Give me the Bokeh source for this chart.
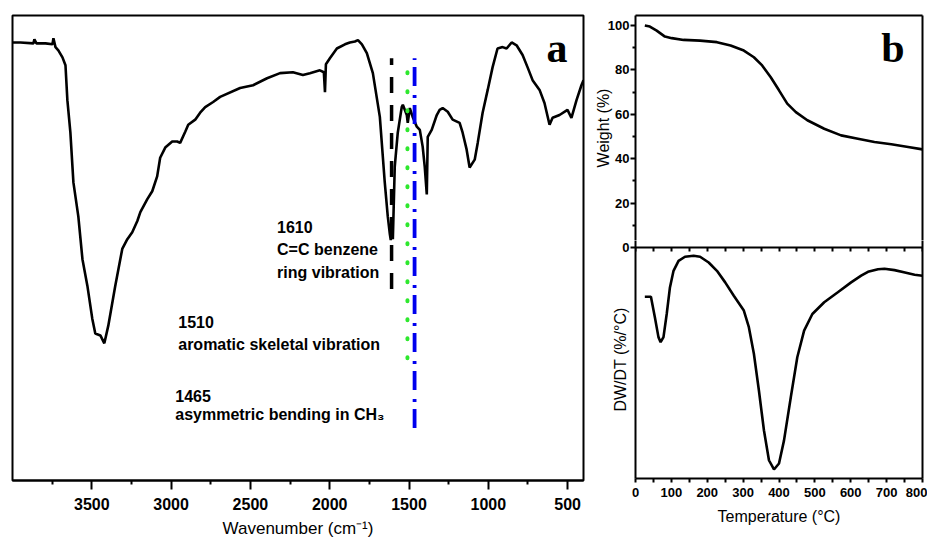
from bokeh.plotting import figure
from bokeh.layouts import row, column
from bokeh.models import Range1d, FixedTicker, LinearAxis, Label
from bokeh.core.properties import value
from bokeh.embed import file_html
from bokeh.resources import INLINE

SANS = "Liberation Sans"
SERIF = "Liberation Serif"

# ---------------- (a) FTIR spectrum ----------------
wavenumber = [4000, 3950, 3868, 3862, 3849, 3792, 3748, 3742, 3729, 3711,
              3685, 3666, 3654, 3635, 3616, 3585, 3559, 3528, 3497, 3478,
              3446, 3421, 3396, 3352, 3308, 3276, 3245, 3213, 3194, 3150,
              3119, 3088, 3069, 3037, 2993, 2962, 2943, 2911, 2892, 2848,
              2817, 2785, 2735, 2691, 2565, 2483, 2395, 2313, 2232, 2169,
              2125, 2062, 2037, 2030, 2024, 1999, 1955, 1904, 1873, 1841,
              1822, 1797, 1766, 1728, 1684, 1653, 1634, 1621, 1615, 1609,
              1602, 1590, 1571, 1546, 1539, 1514, 1508, 1495, 1477, 1451,
              1432, 1414, 1401, 1388, 1382, 1357, 1325, 1307, 1288, 1256,
              1225, 1181, 1162, 1137, 1118, 1086, 1067, 1036, 1004, 973,
              942, 910, 885, 853, 822, 784, 753, 721, 677, 646,
              614, 595, 551, 501, 476, 444, 413, 400]
transmittance = [94.2, 94.2, 94.0, 94.9, 94.0, 94.0, 93.8, 95.1, 93.2, 92.5,
                 91.0, 89.3, 81.8, 74.8, 64.1, 56.8, 47.6, 41.9, 34.8, 31.6,
                 31.2, 29.5, 33.3, 41.9, 49.8, 51.9, 53.4, 55.8, 57.7, 60.5,
                 62.2, 65.4, 69.4, 71.6, 72.9, 72.9, 72.6, 75.0, 76.5, 77.6,
                 79.1, 80.3, 81.4, 82.5, 84.4, 85.0, 86.5, 87.6, 87.8, 87.2,
                 87.6, 88.2, 87.8, 83.5, 89.5, 90.8, 92.9, 93.8, 94.2, 94.4,
                 94.7, 93.8, 91.9, 87.6, 78.2, 64.1, 56.8, 53.0, 51.7, 53.8,
                 51.9, 67.5, 74.8, 80.3, 80.8, 78.6, 76.9, 80.1, 78.2, 76.1,
                 75.4, 71.8, 67.5, 61.5, 73.9, 75.4, 78.6, 79.7, 80.1, 79.3,
                 77.6, 76.9, 74.8, 71.2, 67.3, 69.0, 72.6, 79.1, 84.0, 88.9,
                 92.9, 93.2, 92.9, 94.2, 93.6, 91.5, 88.9, 86.1, 84.0, 81.2,
                 76.5, 78.0, 78.6, 79.7, 78.0, 81.8, 85.0, 86.1]

ftir_ticks = [3500, 3000, 2500, 2000, 1500, 1000, 500]
ftir_minor = [3750, 3250, 2750, 2250, 1750, 1250, 750]

peak_wn = [1610, 1510, 1465]
peak_top = [90.8, 90.6, 90.8]
peak_bottom = [41.2, 26.3, 11.3]

ann_text = ["1610", "C=C benzene", "ring vibration",
            "1510", "aromatic skeletal vibration",
            "1465", "asymmetric bending in CH\u2083"]
ann_x = [2332, 2332, 2332, 2955, 2955, 2974, 2974]
ann_y = [54.5, 49.6, 44.8, 34.0, 29.3, 18.2, 14.2]

# ---------------- (b) TGA / DTG ----------------
temp_tga = [26, 40, 59, 82, 101, 134, 180, 227, 265, 302, 330, 353,
            377, 400, 423, 447, 479, 526, 573, 620, 666, 713, 760, 800]
weight = [100, 99.5, 97.7, 95.0, 94.3, 93.5, 93.2, 92.5, 91.0, 88.7, 85.7, 82.0,
          76.7, 70.8, 64.8, 61.0, 57.3, 53.5, 50.5, 49.0, 47.5, 46.5, 45.3, 44.2]

temp_dtg = [26, 43, 54, 64, 70, 78, 87, 96, 106, 120,
            138, 162, 180, 204, 227, 250, 274, 302, 316, 330,
            344, 358, 372, 386, 400, 414, 433, 451, 470, 493,
            526, 564, 601, 629, 648, 676, 694, 722, 751, 778, 800]
dtg = [-21.3, -21.3, -30.2, -38.8, -41.0, -38.8, -28.8, -17.3, -10.1, -5.8,
       -4.0, -3.6, -4.0, -6.5, -10.1, -15.1, -20.9, -27.3, -34.5, -46.0,
       -61.9, -79.1, -92.1, -96.1, -93.5, -83.5, -64.7, -47.5, -36.0, -28.8,
       -23.7, -19.4, -15.1, -12.2, -10.5, -9.4, -9.2, -9.8, -10.8, -11.8, -12.2]

temp_ticks = [0, 100, 200, 300, 400, 500, 600, 700, 800]
temp_minor = [50, 150, 250, 350, 450, 550, 650, 750]
mid_ticks = [0, 50, 100, 150, 200, 250, 300, 350, 400, 450, 500, 550, 600, 650, 700, 750, 800]
weight_ticks = [20, 40, 60, 80, 100]
weight_minor = [10, 30, 50, 70, 90]
zero_tick = [0]


def style_frame(p, outline=True):
    p.grid.visible = False
    p.outline_line_color = "black" if outline else None
    p.outline_line_width = 2
    p.outline_line_alpha = 1
    p.background_fill_color = "white"
    p.border_fill_color = "white"


def edge_axis():
    a = LinearAxis(ticker=FixedTicker(ticks=[], minor_ticks=[]))
    a.axis_line_width = 2
    a.axis_line_color = "black"
    a.major_tick_out = 0
    a.major_tick_in = 0
    a.minor_tick_out = 0
    a.minor_tick_in = 0
    a.major_label_standoff = 0
    return a


def label_style(a, size, title_size="16px"):
    a.major_label_text_font = SANS
    a.major_label_text_font_size = size
    a.major_label_text_font_style = "bold"
    a.major_label_text_color = "black"
    a.axis_label_text_font = SANS
    a.axis_label_text_font_size = title_size
    a.axis_label_text_font_style = "normal"
    a.axis_label_text_color = "black"
    a.major_tick_line_width = 2
    a.minor_tick_line_width = 2
    a.axis_line_width = 2
    a.major_tick_in = 0
    a.minor_tick_in = 0


# ---------- left figure ----------
p1 = figure(width=588, height=540, x_range=Range1d(4000, 400), y_range=Range1d(0, 100),
            output_backend="svg", toolbar_location=None, y_axis_location=None,
            min_border_left=12, min_border_right=5, min_border_top=15, min_border_bottom=57)
style_frame(p1)
ax = p1.xaxis[0]
label_style(ax, "16px", "17px")
ax.ticker = FixedTicker(ticks=ftir_ticks, minor_ticks=ftir_minor)
ax.axis_label = "Wavenumber (cm\u207b\u00b9)"
ax.major_tick_out = 9
ax.minor_tick_out = 4
ax.major_label_standoff = 8
ax.axis_label_standoff = 6

p1.line(wavenumber, transmittance, line_color="black", line_width=2.6)
p1.segment(x0=[peak_wn[0]], y0=[peak_bottom[0]], x1=[peak_wn[0]], y1=[peak_top[0]],
           line_color="black", line_width=3.5, line_dash="16 12")
p1.segment(x0=[peak_wn[1]], y0=[peak_bottom[1]], x1=[peak_wn[1]], y1=[peak_top[1]],
           line_color="#2ee82e", line_width=4, line_dash="1 18", line_cap="round")
p1.segment(x0=[peak_wn[2]], y0=[peak_bottom[2]], x1=[peak_wn[2]], y1=[peak_top[2]],
           line_color="#0000ee", line_width=3.8, line_dash="19 7 3 9")
p1.text(x=ann_x, y=ann_y, text=ann_text, text_font=value(SANS), text_font_style="bold",
        text_font_size="16px", text_baseline="middle", text_align="left", text_color="black")
p1.add_layout(Label(x=633, y=93.1, text="a", text_font=SERIF, text_font_style="bold",
                    text_font_size="42px", text_baseline="alphabetic", text_align="left",
                    text_color="black"))

# ---------- right top: TGA ----------
p_up = figure(width=339, height=240, x_range=Range1d(0, 800), y_range=Range1d(3.15, 104.5),
              output_backend="svg", toolbar_location=None,
              x_axis_location=None, y_axis_location=None,
              min_border_left=47, min_border_right=5, min_border_top=15, min_border_bottom=0)
style_frame(p_up, outline=False)
wax = LinearAxis(ticker=FixedTicker(ticks=weight_ticks, minor_ticks=weight_minor))
label_style(wax, "13px")
wax.axis_label = "Weight (%)"
wax.major_tick_out = 5
wax.minor_tick_out = 3
wax.major_label_standoff = 1
wax.axis_label_standoff = -7
p_up.add_layout(wax, "left")
p_up.add_layout(edge_axis(), "above")
p_up.add_layout(edge_axis(), "right")
p_up.line(temp_tga, weight, line_color="black", line_width=2.6)
p_up.add_layout(Label(x=685, y=89.7, text="b", text_font=SERIF, text_font_style="bold",
                      text_font_size="42px", text_baseline="alphabetic", text_align="left",
                      text_color="black"))

# ---------- right bottom: DTG ----------
p_low = figure(width=339, height=300, x_range=Range1d(0, 800), y_range=Range1d(-100, 3.03),
               output_backend="svg", toolbar_location=None, y_axis_location=None,
               min_border_left=47, min_border_right=5, min_border_top=0, min_border_bottom=62)
style_frame(p_low, outline=False)
bx = p_low.xaxis[0]
label_style(bx, "13px")
bx.ticker = FixedTicker(ticks=temp_ticks, minor_ticks=temp_minor)
bx.axis_label = "Temperature (\u00b0C)"
bx.major_tick_out = 4
bx.minor_tick_out = 4
bx.major_label_standoff = 5
bx.axis_label_standoff = 8

dax = LinearAxis(ticker=FixedTicker(ticks=zero_tick, minor_ticks=[]))
label_style(dax, "13px")
dax.axis_label = "DW/DT (%/\u00b0C)"
dax.major_tick_out = 5
dax.minor_tick_out = 0
dax.major_label_standoff = 1
dax.axis_label_standoff = -10
p_low.add_layout(dax, "left")
p_low.add_layout(edge_axis(), "right")

midax = LinearAxis(fixed_location=0, ticker=FixedTicker(ticks=[], minor_ticks=mid_ticks))
midax.minor_tick_out = 4
midax.minor_tick_in = 0
midax.minor_tick_line_width = 2
midax.axis_line_width = 2
midax.major_label_standoff = 0
p_low.add_layout(midax, "below")

p_low.line(temp_dtg, dtg, line_color="black", line_width=2.6)

layout = row(p1, column(p_up, p_low))
open("out.html", "w").write(file_html(layout, INLINE))
